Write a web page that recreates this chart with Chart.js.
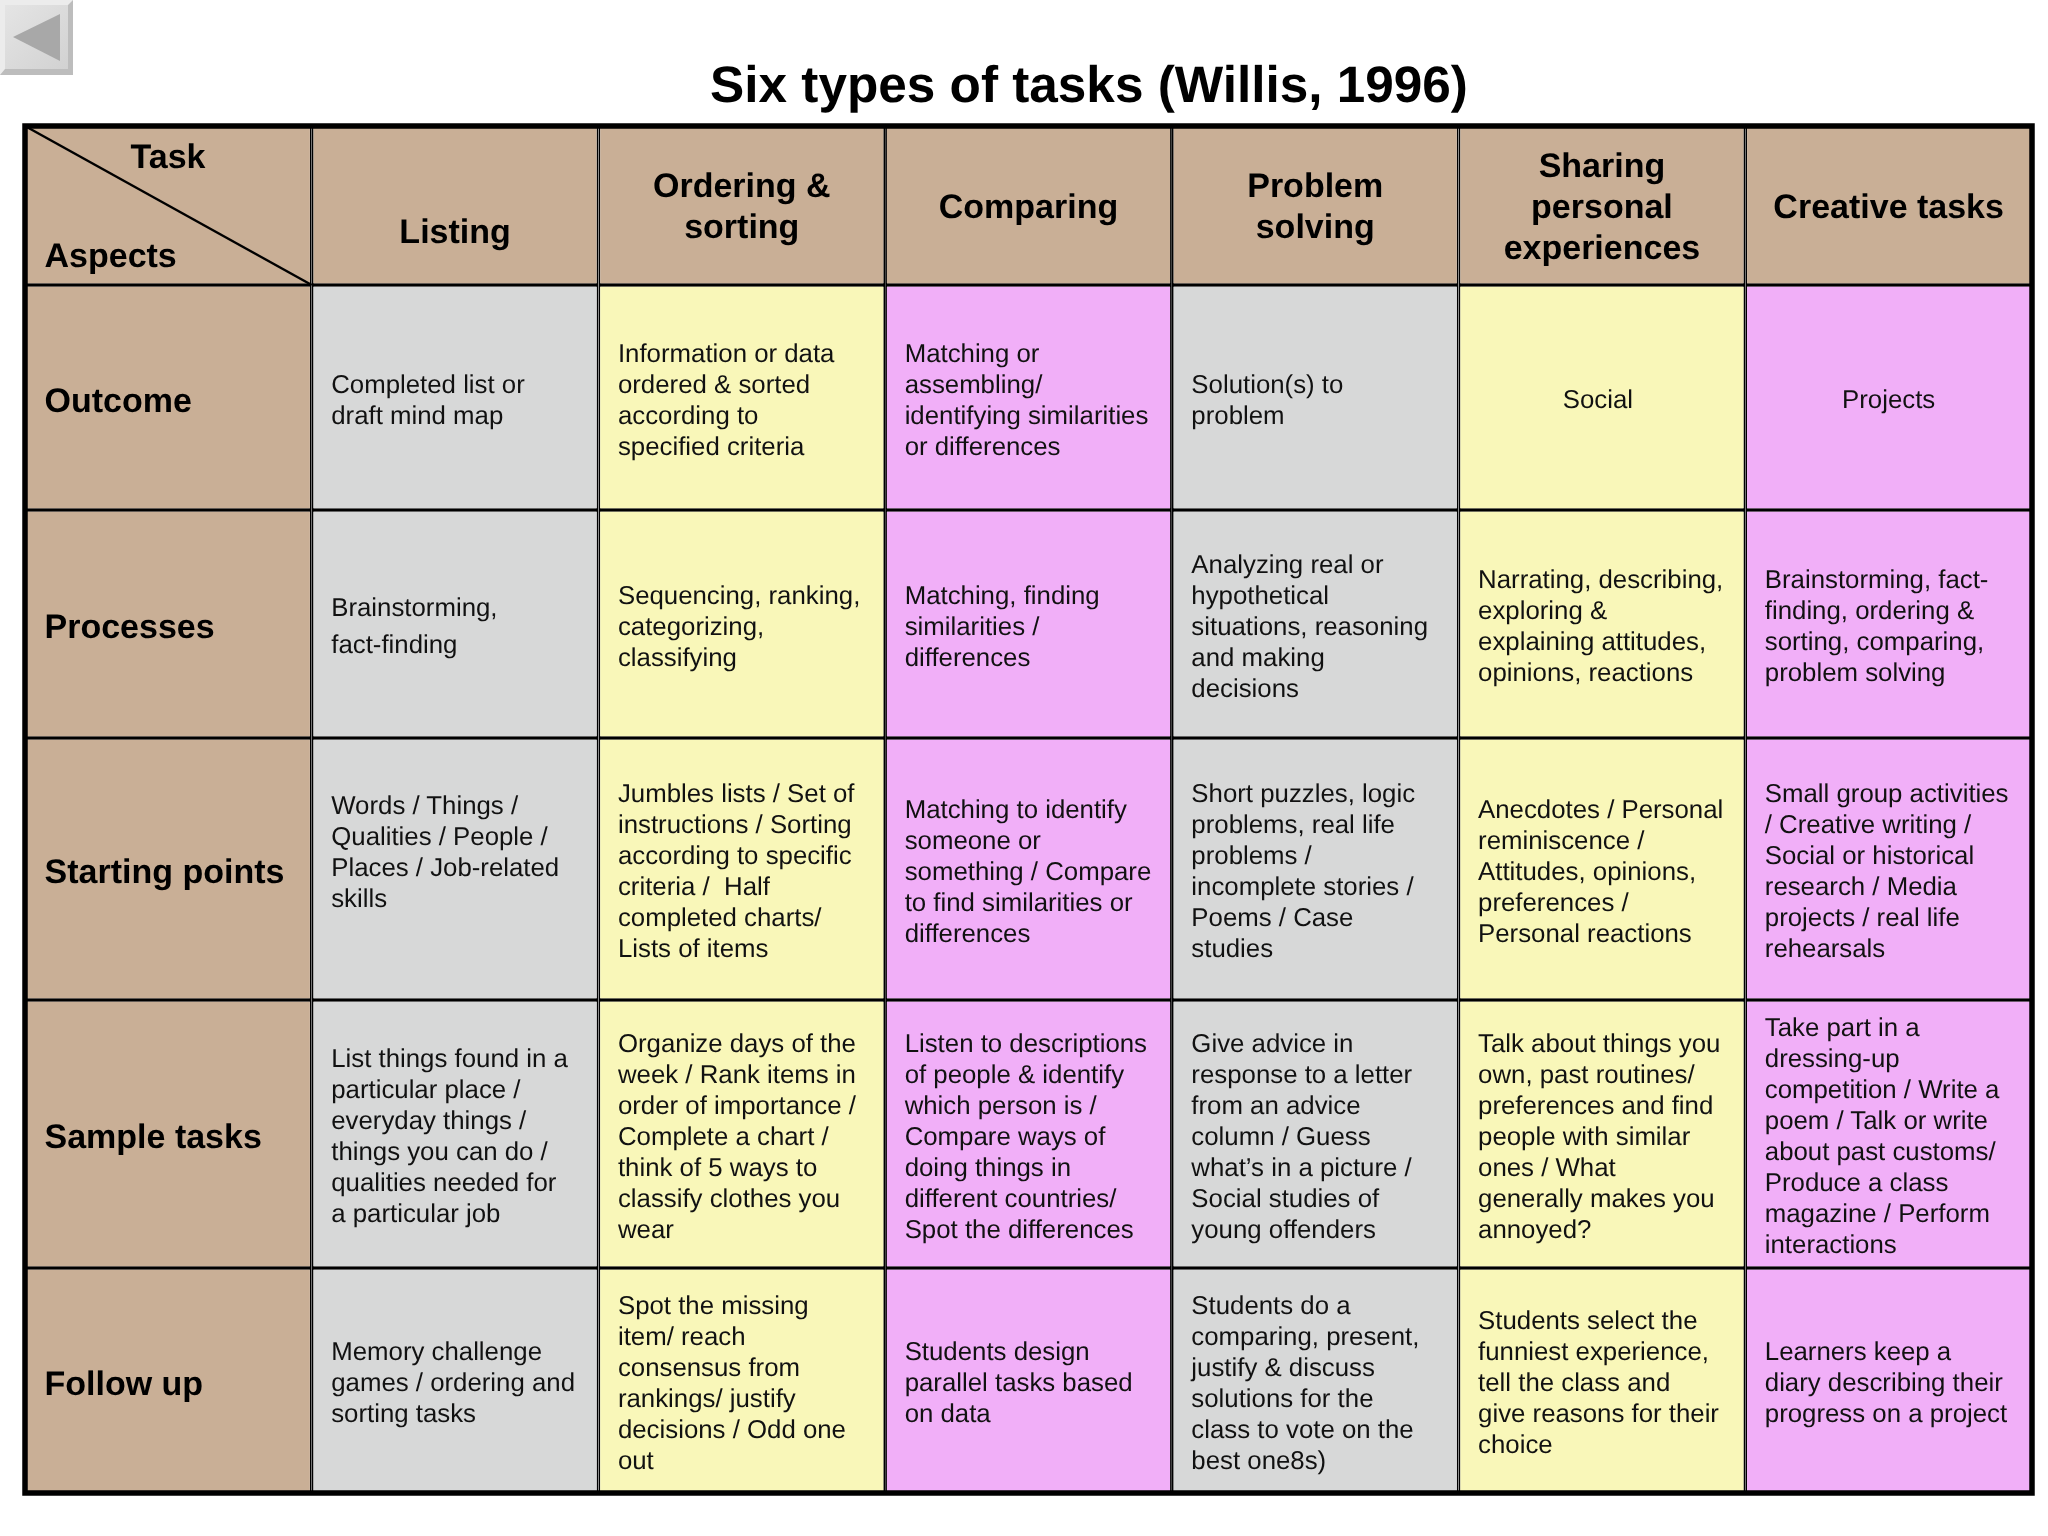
<!DOCTYPE html>
<html>
<head>
<meta charset="utf-8">
<title>Six types of tasks (Willis, 1996)</title>
<script src="https://cdn.jsdelivr.net/npm/chart.js@4"></script>
<style>
  html, body { margin: 0; padding: 0; background: #fff; }
  canvas { display: block; }
</style>
</head>
<body>
<canvas id="tasksChart" width="2048" height="1536"></canvas>
<script>
const titleText = "Six types of tasks (Willis, 1996)";

// the columns of the table
const categories = ["Aspects", "Listing", "Ordering &\nsorting", "Comparing", "Problem\nsolving", "Sharing\npersonal\nexperiences", "Creative tasks"];

// the rows of the table and how tall each one is
const aspects = ["Task", "Outcome", "Processes", "Starting points", "Sample tasks", "Follow up"];
const rowHeights = [159, 225, 228, 262, 268, 225];

const outcome = [
  "Completed list or\ndraft mind map",
  "Information or data\nordered & sorted\naccording to\nspecified criteria",
  "Matching or\nassembling/\nidentifying similarities\nor differences",
  "Solution(s) to\nproblem",
  "Social",
  "Projects"
];
const processes = [
  "Brainstorming,\nfact-finding",
  "Sequencing, ranking,\ncategorizing,\nclassifying",
  "Matching, finding\nsimilarities /\ndifferences",
  "Analyzing real or\nhypothetical\nsituations, reasoning\nand making\ndecisions",
  "Narrating, describing,\nexploring &\nexplaining attitudes,\nopinions, reactions",
  "Brainstorming, fact-\nfinding, ordering &\nsorting, comparing,\nproblem solving"
];
const startingPoints = [
  "Words / Things /\nQualities / People /\nPlaces / Job-related\nskills",
  "Jumbles lists / Set of\ninstructions / Sorting\naccording to specific\ncriteria /  Half\ncompleted charts/\nLists of items",
  "Matching to identify\nsomeone or\nsomething / Compare\nto find similarities or\ndifferences",
  "Short puzzles, logic\nproblems, real life\nproblems /\nincomplete stories /\nPoems / Case\nstudies",
  "Anecdotes / Personal\nreminiscence /\nAttitudes, opinions,\npreferences /\nPersonal reactions",
  "Small group activities\n/ Creative writing /\nSocial or historical\nresearch / Media\nprojects / real life\nrehearsals"
];
const sampleTasks = [
  "List things found in a\nparticular place /\neveryday things /\nthings you can do /\nqualities needed for\na particular job",
  "Organize days of the\nweek / Rank items in\norder of importance /\nComplete a chart /\nthink of 5 ways to\nclassify clothes you\nwear",
  "Listen to descriptions\nof people & identify\nwhich person is /\nCompare ways of\ndoing things in\ndifferent countries/\nSpot the differences",
  "Give advice in\nresponse to a letter\nfrom an advice\ncolumn / Guess\nwhat\u2019s in a picture /\nSocial studies of\nyoung offenders",
  "Talk about things you\nown, past routines/\npreferences and find\npeople with similar\nones / What\ngenerally makes you\nannoyed?",
  "Take part in a\ndressing-up\ncompetition / Write a\npoem / Talk or write\nabout past customs/\nProduce a class\nmagazine / Perform\ninteractions"
];
const followUp = [
  "Memory challenge\ngames / ordering and\nsorting tasks",
  "Spot the missing\nitem/ reach\nconsensus from\nrankings/ justify\ndecisions / Odd one\nout",
  "Students design\nparallel tasks based\non data",
  "Students do a\ncomparing, present,\njustify & discuss\nsolutions for the\nclass to vote on the\nbest one8s)",
  "Students select the\nfunniest experience,\ntell the class and\ngive reasons for their\nchoice",
  "Learners keep a\ndiary describing their\nprogress on a project"
];

const TAN = "#c9af96";
const columnColors = [TAN, "#d7d8d8", "#f9f7b9", "#f1aff8", "#d7d8d8", "#f9f7b9", "#f1aff8"];
const FONT = "'Liberation Sans', Arial, sans-serif";

const bodyRows = [outcome, processes, startingPoints, sampleTasks, followUp];

// one stacked dataset per row, each cell is a bar one category wide
const datasets = aspects.map(function(aspect, r){
  return {
    label: aspect,
    data: categories.map(function(){ return rowHeights[r]; }),
    backgroundColor: categories.map(function(name, c){ return r === 0 ? TAN : columnColors[c]; }),
    borderColor: "#000",
    borderWidth: 1.8,
    borderSkipped: false,
    inflateAmount: 0,
    barPercentage: 1,
    categoryPercentage: 1
  };
});

function drawLines(ctx, text, x, y, lineHeight){
  const lines = text.split("\n");
  const startY = y - (lines.length - 1) * lineHeight / 2;
  lines.forEach(function(line, i){
    ctx.fillText(line, x, startY + i * lineHeight);
  });
}

function drawBackButton(ctx){
  const grad = ctx.createLinearGradient(0, 0, 73, 75);
  grad.addColorStop(0, "#e6e6e6");
  grad.addColorStop(1, "#d0d0d0");
  ctx.fillStyle = "#bdbdbd";
  ctx.fillRect(0, 0, 73, 75);
  ctx.fillStyle = "#ececec";
  ctx.beginPath();
  ctx.moveTo(0, 0); ctx.lineTo(73, 0); ctx.lineTo(68, 5); ctx.lineTo(5, 5); ctx.lineTo(5, 69); ctx.lineTo(0, 75);
  ctx.closePath();
  ctx.fill();
  ctx.fillStyle = grad;
  ctx.fillRect(5, 5, 63, 64);
  ctx.fillStyle = "#a8a8a8";
  ctx.beginPath();
  ctx.moveTo(13, 37); ctx.lineTo(60, 14); ctx.lineTo(60, 61);
  ctx.closePath();
  ctx.fill();
}

// text and the extra lines of the table, placed from the bar elements
const tableTextPlugin = {
  id: "tableText",
  afterDatasetsDraw: function(chart){
    const ctx = chart.ctx;
    const area = chart.chartArea;
    const cell = function(r, c){ return chart.getDatasetMeta(r).data[c]; };

    ctx.save();
    ctx.textRendering = "geometricPrecision";
    ctx.fillStyle = "#000";
    ctx.strokeStyle = "#000";
    ctx.textBaseline = "middle";

    // outer frame
    ctx.lineWidth = 5.5;
    ctx.strokeRect(area.left, area.top, area.width, area.height);

    // diagonal of the corner cell
    const corner = cell(0, 0);
    ctx.lineWidth = 2.5;
    ctx.beginPath();
    ctx.moveTo(area.left, area.top);
    ctx.lineTo(corner.x + corner.width / 2, corner.y);
    ctx.stroke();

    // title
    ctx.font = "bold 51.3px " + FONT;
    ctx.textAlign = "center";
    ctx.fillText(titleText, 1089, 88);

    // corner labels
    ctx.font = "bold 34px " + FONT;
    ctx.fillText("Task", 168, 159);
    ctx.textAlign = "left";
    ctx.fillText(categories[0], 44.5, 258);

    // column headers
    ctx.textAlign = "center";
    categories.forEach(function(name, c){
      if(c === 0) return;
      const p = cell(0, c).getCenterPoint();
      drawLines(ctx, name, p.x, name === "Listing" ? p.y + 28 : p.y + 3, 41);
    });

    // row labels
    ctx.textAlign = "left";
    aspects.forEach(function(aspect, r){
      if(r === 0) return;
      const p = cell(r, 0).getCenterPoint();
      ctx.fillText(aspect, area.left + 19.5, p.y + 5);
    });

    // body cells
    ctx.font = "25.8px " + FONT;
    ctx.fillStyle = "#111";
    bodyRows.forEach(function(row, r){
      row.forEach(function(text, c){
        const el = cell(r + 1, c + 1);
        const p = el.getCenterPoint();
        let y = p.y + 3.5;
        let lineHeight = 31;
        if(text === "Brainstorming,\nfact-finding") lineHeight = 37;
        if(text.indexOf("Words /") === 0) y -= 19;
        if(text === "Social" || text === "Projects"){
          ctx.textAlign = "center";
          drawLines(ctx, text, p.x - (text === "Social" ? 4 : 0), y, lineHeight);
        } else {
          ctx.textAlign = "left";
          drawLines(ctx, text, el.x - el.width / 2 + 19.5, y, lineHeight);
        }
      });
    });

    drawBackButton(ctx);
    ctx.restore();
  }
};

const totalHeight = rowHeights.reduce(function(a, b){ return a + b; }, 0);

const ctx = document.getElementById("tasksChart").getContext("2d");
const tasksChart = new Chart(ctx, {
  type: "bar",
  data: { labels: categories, datasets: datasets },
  plugins: [tableTextPlugin],
  options: {
    responsive: false,
    animation: false,
    layout: { padding: { left: 25, right: 16, top: 126, bottom: 43 } },
    plugins: { legend: { display: false }, title: { display: false }, tooltip: { enabled: false } },
    scales: {
      x: { stacked: true, display: false },
      y: { stacked: true, display: false, reverse: true, min: 0, max: totalHeight }
    }
  }
});
</script>
</body>
</html>
